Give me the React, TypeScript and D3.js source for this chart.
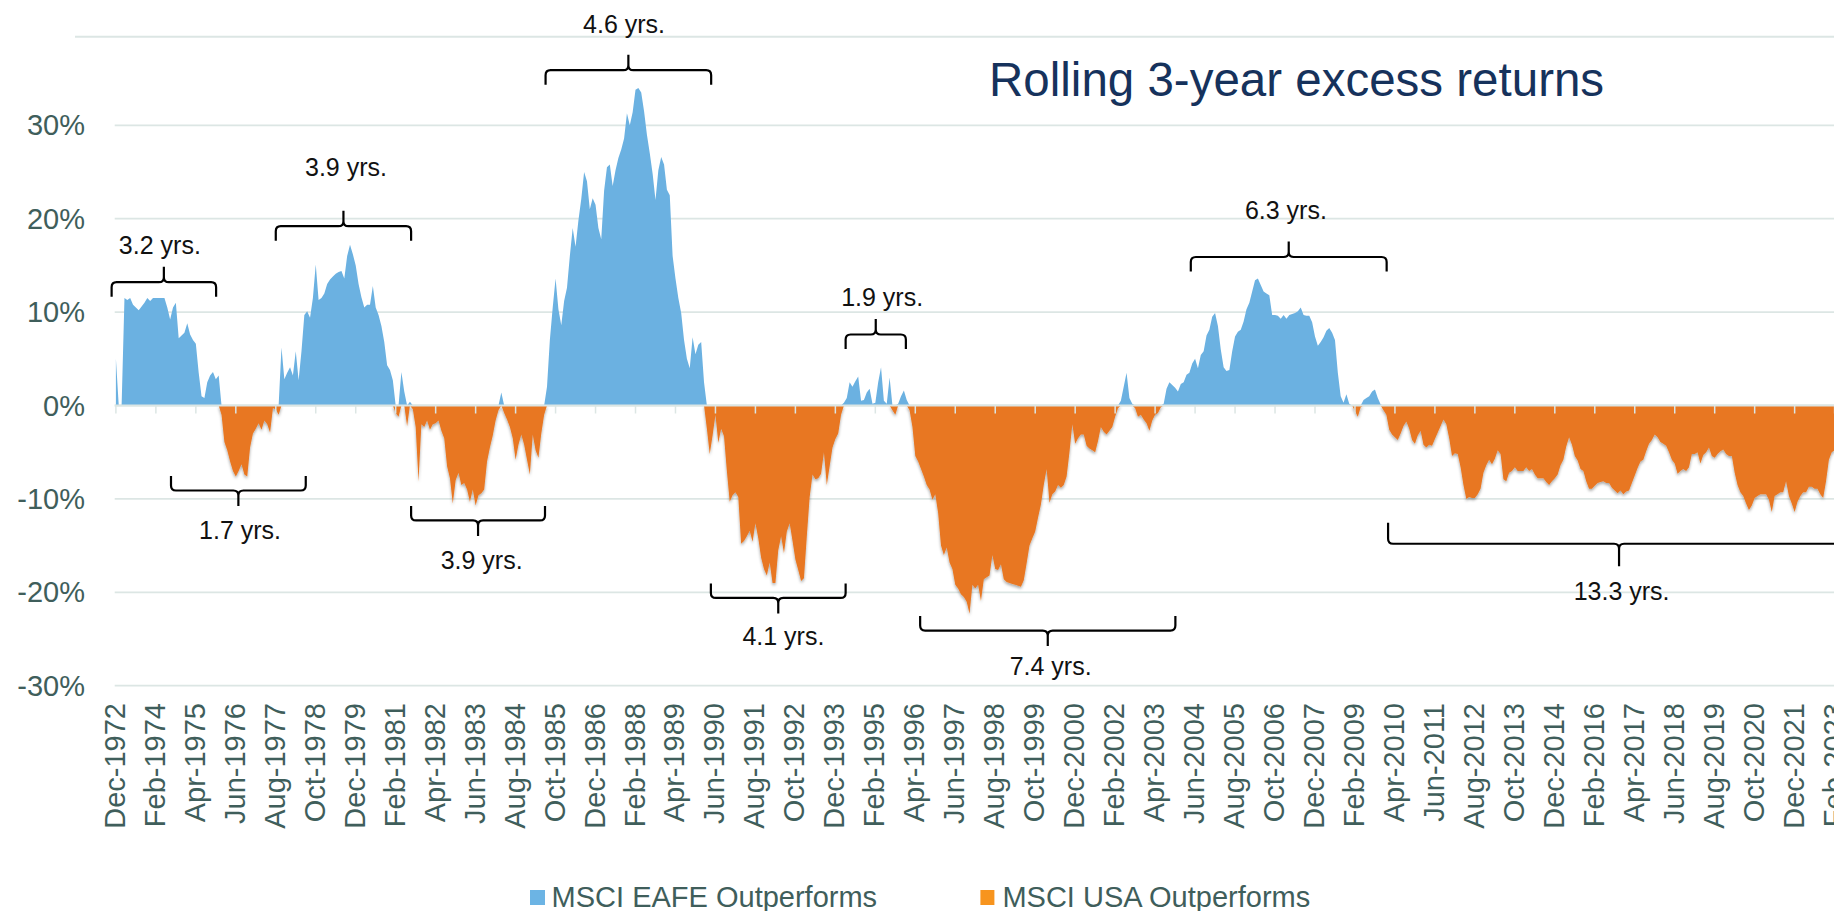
import React from "react";
import * as d3 from "d3";

// Rolling 3-year excess return of MSCI EAFE vs MSCI USA (%), monthly, starting Dec-1972
const returns1970s = [
  5.0, 0, 0, 11.5, 11.3, 11.5, 10.8, 10.5, 10.2, 10.6, 11.0, 11.5, 11.2, 11.5, 11.5, 11.5, 11.5, 11.5, 10.5, 9.2,
  10.5, 11.0, 7.2, 7.5, 7.8, 8.8, 7.6, 7.0, 6.6, 3.5, 1.0, 0.8, 2.5, 3.2, 3.6, 2.8, 3.2, -1.0, -3.9, -4.8,
  -6.0, -7.0, -7.6, -7.0, -6.3, -7.4, -7.6, -4.5, -3.0, -2.5, -1.9, -2.6, -1.6, -2.0, -2.9, -0.3, -0.4, -1.0, 6.2, 2.8,
  3.5, 4.1, 3.2, 5.8, 2.7, 5.8, 9.7, 10.1, 9.4, 11.5, 15.1, 11.3, 11.5, 12.0, 13.0, 13.5, 13.8, 14.1, 14.3, 14.4,
  13.6, 16.0, 17.2, 16.2, 15.0,
];
const returns1980s = [
  13.0, 11.6, 10.5, 10.8, 10.8, 12.8, 10.5, 9.7, 8.5, 6.8, 4.3, 3.8, 2.7, -0.8, -1.2, 3.6, 1.5, -2.2, 0.4, -0.4,
  -2.3, -8.1, -2.0, -2.3, -1.6, -2.6, -2.0, -1.9, -1.6, -2.7, -3.5, -6.5, -7.8, -10.5, -8.0, -7.2, -8.5, -8.3, -9.0, -10.3,
  -9.0, -10.7, -9.6, -9.4, -9.0, -6.0, -4.5, -3.2, -1.6, -0.5, 1.4, -0.8, -1.5, -2.3, -3.5, -5.8, -4.2, -3.1, -4.2, -5.8,
  -7.4, -3.1, -4.8, -5.6, -3.0, -1.0, 2.0, 7.0, 10.5, 13.6, 10.3, 8.6, 11.2, 12.6, 16.0, 19.0, 17.0, 19.8, 22.1, 25.0,
  24.0, 21.0, 22.2, 21.5, 19.0, 17.8, 23.0, 25.5, 25.8, 23.5, 25.2, 26.5, 27.4, 28.6, 31.3, 30.0, 31.4, 33.8, 34.0, 33.5,
  31.5, 29.0, 27.0, 24.8, 22.0, 25.2, 26.6, 25.8, 23.1, 22.5, 16.0, 13.6, 11.5, 9.9, 7.0, 5.0, 4.0, 7.3, 5.5, 6.5,
];
const returns1990s = [
  6.8, 2.5, -2.5, -5.2, -3.2, -1.0, -4.0, -2.5, -3.3, -7.0, -10.3, -9.6, -9.3, -9.8, -14.8, -14.5, -14.0, -13.4, -14.6, -12.6,
  -14.2, -16.3, -17.5, -18.2, -16.8, -19.0, -19.0, -15.5, -14.0, -15.8, -13.5, -12.6, -14.5, -16.5, -17.6, -18.8, -18.5, -14.0, -9.8, -7.4,
  -7.9, -7.8, -7.3, -5.0, -8.5, -6.5, -4.5, -3.6, -3.0, -1.0, 0.3, 0.8, 2.5, 2.0, 2.6, 3.1, 0.5, 0.6, 1.4, 1.8,
  0.2, 0.3, 2.5, 4.1, 0.5, 0.2, 3.0, -0.5, -1.0, 0.2, 1.0, 1.6, 0.6, -0.5, -2.3, -5.4, -6.0, -6.8, -7.6, -8.5,
  -9.0, -10.1, -9.5, -11.5, -15.0, -16.0, -15.2, -16.8, -17.5, -19.2, -19.6, -20.2, -20.5, -21.0, -22.3, -19.2, -19.6, -19.2, -20.9, -18.6,
  -18.4, -18.2, -16.0, -17.5, -17.6, -17.0, -18.6, -18.9, -19.0, -19.1, -19.2, -19.3, -19.4, -18.7, -16.9, -15.0, -14.2, -13.5, -12.0, -10.6,
];
const returns2000s = [
  -8.5, -6.8, -10.4, -9.5, -9.2, -8.5, -8.8, -8.5, -7.6, -5.0, -2.0, -4.1, -3.5, -3.1, -3.1, -4.3, -4.6, -4.8, -5.0, -3.8,
  -2.3, -2.8, -3.1, -2.7, -2.3, -1.2, -0.3, 0.5, 2.0, 3.5, 0.8, 0.2, -0.3, -1.2, -1.0, -1.5, -1.9, -2.7, -1.6, -1.0,
  -0.8, -0.2, 0.2, 1.8, 2.5, 2.2, 1.9, 1.5, 2.3, 2.5, 3.3, 3.5, 4.5, 5.0, 4.0, 5.4, 5.8, 7.5, 8.1, 9.5,
  9.9, 8.5, 6.0, 4.1, 3.7, 3.8, 5.8, 7.4, 7.9, 8.1, 9.0, 10.3, 11.0, 12.2, 13.4, 13.6, 12.9, 12.2, 12.0, 11.8,
  9.7, 9.7, 9.6, 9.3, 9.7, 9.3, 9.7, 9.8, 9.9, 10.1, 10.5, 9.7, 9.6, 9.6, 8.9, 7.4, 6.4, 6.8, 7.3, 8.0,
  8.3, 7.8, 7.0, 3.5, 1.0, 0.3, 1.2, 0.2, 0, -0.6, -1.2, -0.2, 0.6, 0.8, 1.0, 1.5, 1.7, 0.8, 0.1, -0.5,
];
const returns2010s = [
  -1.0, -2.6, -3.1, -3.4, -3.7, -3.0, -2.2, -1.7, -2.5, -3.7, -4.1, -3.2, -2.7, -4.2, -4.5, -4.2, -4.3, -3.6, -2.9, -2.2,
  -1.5, -2.0, -3.5, -5.4, -5.1, -5.2, -6.6, -8.5, -10.0, -9.8, -9.9, -9.9, -9.5, -8.9, -7.2, -6.4, -5.8, -6.3, -5.7, -4.8,
  -5.2, -7.9, -8.1, -7.2, -7.0, -6.6, -7.0, -7.0, -7.0, -6.6, -7.0, -6.8, -7.4, -7.8, -7.8, -7.8, -8.2, -8.5, -8.1, -7.8,
  -7.4, -6.4, -5.8, -4.4, -3.4, -4.2, -5.4, -5.9, -6.8, -7.0, -8.1, -8.9, -8.9, -8.6, -8.3, -8.2, -8.1, -8.3, -8.3, -8.8,
  -9.1, -9.4, -9.1, -9.5, -9.2, -9.1, -8.3, -7.5, -6.7, -6.0, -5.8, -4.9, -4.1, -3.7, -3.1, -3.4, -3.9, -4.1, -4.3, -5.0,
  -5.8, -6.2, -7.3, -7.0, -6.8, -7.0, -6.6, -5.2, -5.2, -5.0, -6.2, -5.3, -5.0, -4.5, -5.4, -5.6, -5.2, -4.9, -4.7, -5.2,
];
const returns2020s = [
  -5.4, -5.4, -7.2, -8.5, -9.3, -9.7, -10.5, -11.2, -10.7, -9.9, -9.7, -9.5, -9.5, -9.5, -10.1, -11.4, -9.7, -9.5, -9.3, -9.3,
  -8.1, -9.7, -10.5, -11.4, -10.3, -9.7, -9.3, -9.3, -8.7, -8.7, -8.9, -8.9, -9.5, -9.9, -8.1, -5.8, -5.0, -4.8,
];

const monthNames = ["Jan", "Feb", "Mar", "Apr", "May", "Jun", "Jul", "Aug", "Sep", "Oct", "Nov", "Dec"];

const tickLabels = [
  "Dec-1972", "Feb-1974", "Apr-1975", "Jun-1976", "Aug-1977", "Oct-1978", "Dec-1979", "Feb-1981", "Apr-1982",
  "Jun-1983", "Aug-1984", "Oct-1985", "Dec-1986", "Feb-1988", "Apr-1989", "Jun-1990", "Aug-1991", "Oct-1992",
  "Dec-1993", "Feb-1995", "Apr-1996", "Jun-1997", "Aug-1998", "Oct-1999", "Dec-2000", "Feb-2002", "Apr-2003",
  "Jun-2004", "Aug-2005", "Oct-2006", "Dec-2007", "Feb-2009", "Apr-2010", "Jun-2011", "Aug-2012", "Oct-2013",
  "Dec-2014", "Feb-2016", "Apr-2017", "Jun-2018", "Aug-2019", "Oct-2020", "Dec-2021", "Feb-2023",
];

const yTicks = [-30, -20, -10, 0, 10, 20, 30];

const seriesNames = ["MSCI EAFE Outperforms", "MSCI USA Outperforms"];

// Period annotations (start/end in months from Dec-1972, levels in %)
const periodLabels = ["3.2 yrs.", "3.9 yrs.", "1.7 yrs.", "3.9 yrs.", "4.6 yrs.", "1.9 yrs.", "4.1 yrs.", "7.4 yrs.", "6.3 yrs.", "13.3 yrs."];
const periodStart = [-1.5, 56.0, 19.3, 103.4, 150.5, 255.6, 208.4, 281.7, 376.5, 445.6];
const periodEnd = [35.1, 103.4, 66.5, 150.3, 208.5, 276.7, 255.6, 371.1, 445.1, 607.4];
const periodBar = [13.2, 19.2, -9.1, -12.3, 35.9, 7.6, -20.6, -24.1, 15.9, -14.8];
const periodText = [16.2, 24.6, -14.3, -17.5, 39.9, 10.6, -25.6, -28.9, 20.0, -20.8];
const periodTextAt = [15.4, 80.6, 43.5, 128.1, 178.0, 268.4, 233.8, 327.4, 409.8, 527.4];

const values = [
  ...returns1970s, ...returns1980s, ...returns1990s, ...returns2000s, ...returns2010s, ...returns2020s,
];
const categories = values.map((_, i) => {
  const k = 11 + i;
  return `${monthNames[k % 12]}-${1972 + Math.floor(k / 12)}`;
});

const W = 1834;
const H = 911;
const FONT = "'Liberation Sans', Arial, Helvetica, sans-serif";
const AXIS_COLOR = "#3F5E5B";
const GRID = "#DCE6E4";
const BLUE = "#6BB1E1";
const ORANGE = "#E87722";

function bracePath(x0: number, x1: number, yb: number, dir: number, e: number, t: number) {
  // dir = -1: tip points up, ends point down; dir = 1: tip down, ends up
  const r = 5;
  const xm = (x0 + x1) / 2;
  const s = dir;
  return [
    `M${x0},${yb - s * e}`,
    `L${x0},${yb - s * r}`,
    `Q${x0},${yb} ${x0 + r},${yb}`,
    `L${xm - r},${yb}`,
    `Q${xm},${yb} ${xm},${yb + s * r}`,
    `L${xm},${yb + s * t}`,
    `M${xm},${yb + s * r}`,
    `Q${xm},${yb} ${xm + r},${yb}`,
    `L${x1 - r},${yb}`,
    `Q${x1},${yb} ${x1},${yb - s * r}`,
    `L${x1},${yb - s * e}`,
  ].join(" ");
}

export default function App() {
  const x = d3.scaleLinear().domain([0, 602]).range([115.9, 1834.6]);
  const y = d3.scaleLinear().domain([-30, 30]).range([685.7, 125.3]);

  const idx = values.map((_, i) => i);
  const posArea = d3
    .area<number>()
    .x((i) => x(i))
    .y0(y(0))
    .y1((i) => y(Math.max(values[i], 0)));
  const negArea = d3
    .area<number>()
    .x((i) => x(i))
    .y0(y(0))
    .y1((i) => y(Math.min(values[i], 0)));

  const tickIdx = tickLabels.map((l) => categories.indexOf(l));

  return (
    <svg
      width={W}
      height={H}
      viewBox={`0 0 ${W} ${H}`}
      style={{ position: "absolute", left: 0, top: 0, background: "#fff", fontFamily: FONT }}
    >
      <defs>
        <filter id="shadow" x="-2%" y="-5%" width="104%" height="115%">
          <feDropShadow dx="0" dy="2" stdDeviation="1.5" floodColor="#000" floodOpacity="0.35" />
        </filter>
      </defs>
      <rect x={0} y={0} width={W} height={H} fill="#fff" />

      {/* top separator line */}
      <line x1={75} x2={W} y1={36.7} y2={36.7} stroke={GRID} strokeWidth={2} />

      {/* gridlines */}
      {yTicks.map((t) => (
        <line key={t} x1={114.7} x2={W} y1={y(t)} y2={y(t)} stroke={GRID} strokeWidth={1.8} />
      ))}

      {/* areas */}
      <path d={posArea(idx) || ""} fill={BLUE} />
      <path d={negArea(idx) || ""} fill={ORANGE} filter="url(#shadow)" />

      {/* zero axis and ticks */}
      <line x1={114.7} x2={W} y1={y(0)} y2={y(0)} stroke={GRID} strokeWidth={2} />
      {tickIdx.map((i) => (
        <line key={i} x1={x(i)} x2={x(i)} y1={y(0)} y2={y(0) + 8} stroke={GRID} strokeWidth={1.5} />
      ))}

      {/* y labels */}
      {yTicks.map((t) => (
        <text
          key={t}
          x={85}
          y={y(t)}
          textAnchor="end"
          dominantBaseline="central"
          fontSize={29}
          fill={AXIS_COLOR}
        >
          {`${t}%`}
        </text>
      ))}

      {/* x labels */}
      {tickIdx.map((i, k) => (
        <text
          key={i}
          transform={`translate(${x(i) - 1},703) rotate(-90)`}
          textAnchor="end"
          dominantBaseline="central"
          fontSize={29}
          fill={AXIS_COLOR}
        >
          {tickLabels[k]}
        </text>
      ))}

      {/* period brackets */}
      {periodLabels.map((lab, k) => {
        const dir = periodBar[k] >= 0 ? -1 : 1;
        const big = periodEnd[k] - periodStart[k] > 120 ? 1.45 : 1;
        return (
          <g key={k}>
            <path
              d={bracePath(x(periodStart[k]), x(periodEnd[k]), y(periodBar[k]), dir, 14.5 * big, 15.5 * big)}
              fill="none"
              stroke="#000"
              strokeWidth={2.2}
            />
            <text x={x(periodTextAt[k])} y={y(periodText[k])} textAnchor="middle" fontSize={25} fill="#111">
              {lab}
            </text>
          </g>
        );
      })}

      {/* title */}
      <text x={989} y={96} fontSize={47.5} fill="#16325C">
        Rolling 3-year excess returns
      </text>

      {/* legend */}
      <rect x={530} y={890} width={15} height={15} fill="#6CB4E4" />
      <text x={551.6} y={907} fontSize={29} fill={AXIS_COLOR}>
        {seriesNames[0]}
      </text>
      <rect x={980.4} y={890} width={14} height={15} fill="#F7941E" />
      <text x={1002.4} y={907} fontSize={29} fill={AXIS_COLOR}>
        {seriesNames[1]}
      </text>
    </svg>
  );
}
